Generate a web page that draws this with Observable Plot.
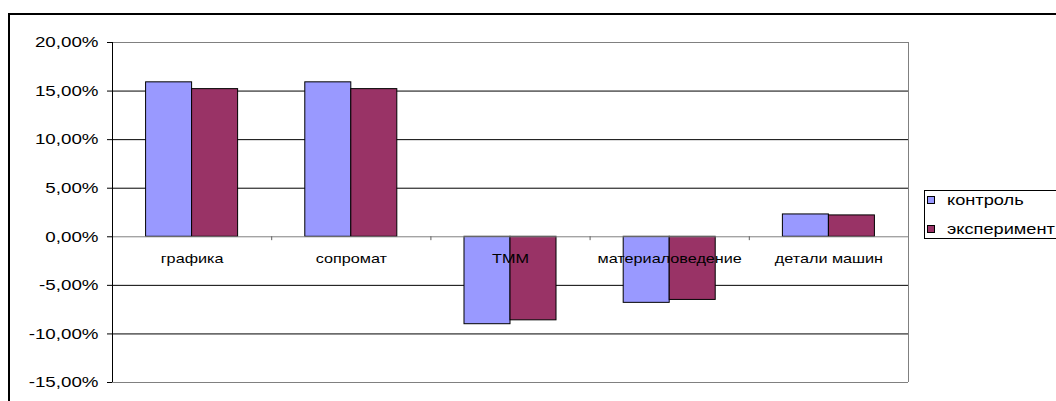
<!DOCTYPE html>
<html>
<head>
<meta charset="utf-8">
<script src="https://cdn.jsdelivr.net/npm/d3@7"></script>
<script src="https://cdn.jsdelivr.net/npm/@observablehq/plot@0.6"></script>
<style>
  html, body { margin: 0; padding: 0; background: #fff; overflow: hidden; }
  #wrap { position: relative; width: 1056px; height: 401px; overflow: hidden; font-family: "Liberation Sans", Arial, sans-serif; }
  #outer { position: absolute; left: 8px; top: 13px; width: 1200px; height: 600px; border: 2px solid #000; box-sizing: border-box; }
  #chart { position: absolute; left: 0; top: 0; }
  #legend { position: absolute; left: 924px; top: 190px; width: 160px; height: 49px; border: 1px solid #000; background: #fff; box-sizing: border-box; }
  .item { position: absolute; left: 2px; height: 16px; display: flex; align-items: center; font-size: 14px; color: #000; white-space: nowrap; }
  .item span { display: inline-block; transform: scaleX(1.3); transform-origin: left center; }
  .sw { width: 8px; height: 8px; border: 1px solid #000; margin-right: 12px; box-sizing: border-box; }
</style>
</head>
<body>
<div id="wrap">
  <div id="outer"></div>
  <div id="chart"></div>
  <div id="legend"></div>
</div>
<script>
const categories = ["графика", "сопромат", "ТММ", "материаловедение", "детали машин"];
const seriesNames = ["контроль", "эксперимент"];
const control = [15.9, 15.9, -9.0, -6.8, 2.3];
const experiment = [15.2, 15.2, -8.6, -6.5, 2.2];
const yTicks = [-15, -10, -5, 0, 5, 10, 15, 20];
const seriesColors = ["#9999FF", "#993366"];

const rows = categories.flatMap((c, i) => [
  {cat: c, i, s: 0, series: seriesNames[0], v: control[i]},
  {cat: c, i, s: 1, series: seriesNames[1], v: experiment[i]}
]);

const gap = 0.211, bw = 0.289;
const fmt = v => v.toFixed(2).replace(".", ",") + "%";

const chart = Plot.plot({
  width: 1056,
  height: 401,
  marginLeft: 112,
  marginRight: 148,
  marginTop: 42,
  marginBottom: 19,
  style: {fontFamily: "'Liberation Sans', Arial, sans-serif", fontSize: "15px", background: "transparent", color: "#000"},
  x: {domain: [0, categories.length], axis: null},
  y: {domain: [-15, 20], ticks: yTicks, tickFormat: fmt, tickSize: 5, tickPadding: 9, label: null},
  color: {domain: seriesNames, range: seriesColors},
  marks: [
    Plot.ruleY(yTicks.filter(t => t !== 0 && t !== 20 && t !== -15), {stroke: "#000"}),
    Plot.ruleY([20, -15], {stroke: "#808080"}),
    Plot.ruleX([categories.length], {stroke: "#808080"}),
    Plot.rectY(rows, {
      x1: d => d.i + gap + d.s * bw,
      x2: d => d.i + gap + (d.s + 1) * bw,
      y1: 0, y2: "v",
      fill: "series",
      stroke: "#000",
      strokeWidth: 1
    }),
    Plot.ruleY([0], {stroke: "#808080"}),
    Plot.ruleX(d3.range(1, categories.length), {y1: 0, y2: -0.4, stroke: "#606060"}),
    Plot.ruleX([0], {stroke: "#000"}),
    Plot.text(categories, {
      x: (d, i) => i + 0.5,
      y: 0,
      text: d => d,
      dy: 22,
      fontSize: 13.5,
      fill: "#000",
      className: "catlab"
    })
  ]
});
document.getElementById("chart").appendChild(chart);

// horizontally stretch text glyphs like the original rendering
function stretch(sel, k) {
  chart.querySelectorAll(sel).forEach(t => {
    const w = t.getComputedTextLength();
    if (w > 0) {
      t.setAttribute("textLength", (w * k).toFixed(1));
      t.setAttribute("lengthAdjust", "spacingAndGlyphs");
    }
  });
}
stretch('g[aria-label="y-axis tick label"] text', 1.25);
stretch('.catlab text', 1.2);

const legend = document.getElementById("legend");
seriesNames.forEach((name, k) => {
  const it = document.createElement("div");
  it.className = "item";
  it.style.top = (k === 0 ? 1 : 30) + "px";
  const sw = document.createElement("div");
  sw.className = "sw";
  sw.style.background = seriesColors[k];
  it.appendChild(sw);
  const sp = document.createElement("span");
  sp.textContent = name;
  it.appendChild(sp);
  legend.appendChild(it);
});
</script>
</body>
</html>
